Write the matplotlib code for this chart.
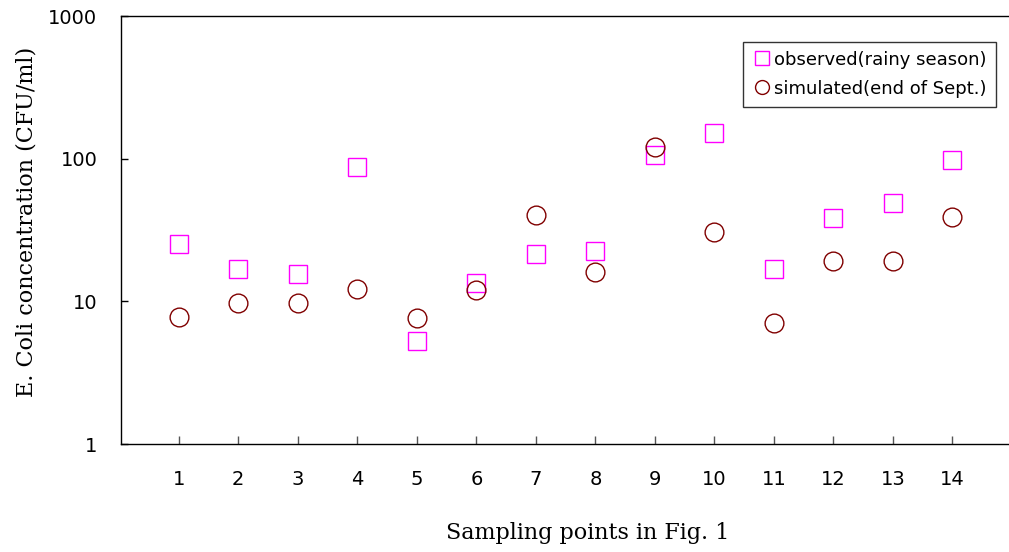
import matplotlib
matplotlib.use("Agg")
import matplotlib.pyplot as plt
from matplotlib.ticker import FixedLocator, NullLocator

points = list(range(1, 15))
observed = [25.2, 16.8, 15.5, 87, 5.3, 13.4, 21.5, 22.5, 106, 151, 16.8, 38.4, 48.9, 98]
simulated = [7.8, 9.7, 9.7, 12.2, 7.6, 12.0, 40.3, 16.0, 120, 30.6, 7.0, 19.2, 19.2, 39.0]
ytick_vals = [1, 10, 100, 1000]
ytick_labels = ["1", "10", "100", "1000"]

fig = plt.figure(figsize=(10.09, 5.52), dpi=100)
ax = fig.add_axes([121/1009, 1-444/552, 1-121/1009, (444-16)/552])

ax.plot(points, observed, linestyle="none", marker="s", markersize=13,
        markerfacecolor="none", markeredgecolor="#ff00ff", markeredgewidth=1.0,
        label="observed(rainy season)")
ax.plot(points, simulated, linestyle="none", marker="o", markersize=13.5,
        markerfacecolor="none", markeredgecolor="#800000", markeredgewidth=1.0,
        label="simulated(end of Sept.)")

ax.set_yscale("log")
ax.set_ylim(1, 1000)
ax.set_xlim(0.03, 14.95)
ax.yaxis.set_major_locator(FixedLocator(ytick_vals))
ax.set_yticklabels(ytick_labels)
ax.yaxis.set_minor_locator(NullLocator())
ax.set_xticks(points)
ax.set_xticklabels([str(p) for p in points])

ax.spines["right"].set_visible(False)
for s in ["left", "bottom", "top"]:
    ax.spines[s].set_linewidth(1.0)
    ax.spines[s].set_color("black")

ax.tick_params(axis="y", direction="in", length=5, width=1, labelsize=14, pad=17)
ax.tick_params(axis="x", direction="in", length=6, width=1, labelsize=14, pad=18.5, color="#555555")

ax.set_xlabel("Sampling points in Fig. 1", family="DejaVu Serif", fontsize=16, va="center")
ax.xaxis.set_label_coords(0.525, -0.208)
ax.set_ylabel("E. Coli concentration (CFU/ml)", family="DejaVu Serif", fontsize=16, va="center")
ax.yaxis.set_label_coords(-0.106, 0.52)

leg = ax.legend(loc="upper right", bbox_to_anchor=(0.985, 0.94), fontsize=13,
                frameon=True, fancybox=False, handletextpad=0.2, borderpad=0.5,
                handlelength=1.0, labelspacing=0.6, borderaxespad=0)
leg.get_frame().set_edgecolor("black")
leg.get_frame().set_linewidth(1.0)
for h in leg.legend_handles:
    h.set_markersize(10)

fig.savefig("out.png", dpi=100)
